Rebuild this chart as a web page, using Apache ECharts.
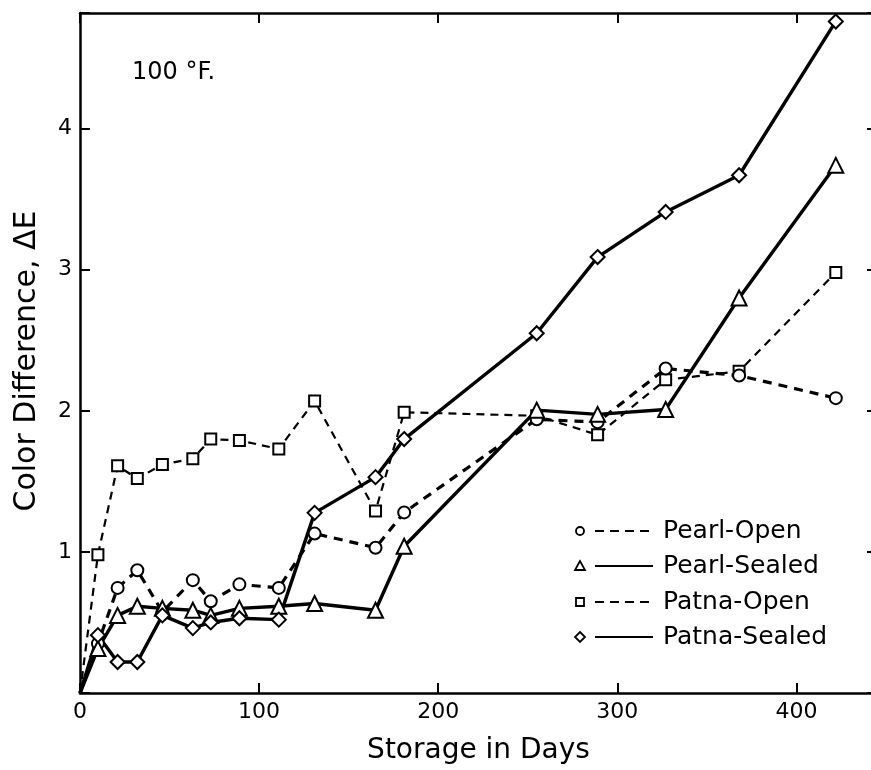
<!DOCTYPE html>
<html><head><meta charset="utf-8">
<script src="https://cdn.jsdelivr.net/npm/echarts@6/dist/echarts.min.js"></script>
<style>html,body{margin:0;padding:0;background:#fff}#c{width:871px;height:770px}</style>
</head><body><div id="c"></div>
<script>
// Storage days (x) and color difference ΔE (y)
const days        = [0, 10, 21, 32, 46, 63, 73, 89, 111, 131, 165, 181, 255, 289, 327, 368, 422];
const pearlOpen   = [0, 0.35, 0.745, 0.87, 0.575, 0.80, 0.65, 0.77, 0.745, 1.13, 1.03, 1.28, 1.94, 1.92, 2.30, 2.25, 2.09];
const pearlSealed = [0, 0.315, 0.55, 0.615, 0.60, 0.587, 0.55, 0.60, 0.615, 0.634, 0.587, 1.04, 2.005, 1.975, 2.01, 2.80, 3.74];
const patnaOpen   = [0, 0.98, 1.61, 1.52, 1.62, 1.66, 1.80, 1.79, 1.73, 2.07, 1.29, 1.99, 1.965, 1.83, 2.22, 2.28, 2.98];
const patnaSealed = [0, 0.41, 0.22, 0.22, 0.55, 0.46, 0.50, 0.53, 0.52, 1.277, 1.53, 1.80, 2.55, 3.09, 3.41, 3.67, 4.76];
const seriesNames = ['Pearl-Open', 'Pearl-Sealed', 'Patna-Open', 'Patna-Sealed'];
const xTickLabels = [0, 100, 200, 300, 400];
const yTickLabels = [1, 2, 3, 4];

const FONT = 'DejaVu Sans';
const chart = echarts.init(document.getElementById('c'), null, {renderer: 'canvas'});

// origin point drawn without a marker, as in the reference
const pair = arr => days.map((d, i) => d === 0 ? {value: [d, arr[i]], symbol: 'none'} : [d, arr[i]]);
const axisLine = {show: true, onZero: false, lineStyle: {color: '#000', width: 2.5}};
const tick = {show: true, inside: true, length: 10, lineStyle: {color: '#000', width: 2}};

function mkSeries(name, arr, symbol, size, lw, dash) {
  return {
    name, type: 'line', data: pair(arr), symbol, symbolSize: size,
    showAllSymbol: true, animation: false, silent: true,
    itemStyle: {color: '#fff', borderColor: '#000', borderWidth: 2},
    lineStyle: {color: '#000', width: lw, type: dash || 'solid'},
    emphasis: {disabled: true}, clip: false
  };
}

// legend drawn as decoration
const legendRows = [
  {name: seriesNames[0], sym: 'circle', dash: [9, 6], y: 531},
  {name: seriesNames[1], sym: 'triangle', dash: null, y: 566},
  {name: seriesNames[2], sym: 'rect', dash: [9, 6], y: 602},
  {name: seriesNames[3], sym: 'diamond', dash: null, y: 637}
];
const graphics = [];
legendRows.forEach(r => {
  const cx = 580, cy = r.y;
  let shape;
  if (r.sym === 'circle') shape = {type: 'circle', shape: {cx, cy, r: 4}};
  else if (r.sym === 'triangle') shape = {type: 'polygon', shape: {points: [[cx, cy - 5], [cx - 5, cy + 4], [cx + 5, cy + 4]]}};
  else if (r.sym === 'rect') shape = {type: 'rect', shape: {x: cx - 4, y: cy - 4, width: 8, height: 8}};
  else shape = {type: 'polygon', shape: {points: [[cx, cy - 5], [cx + 5, cy], [cx, cy + 5], [cx - 5, cy]]}};
  shape.style = {fill: '#fff', stroke: '#000', lineWidth: 1.8};
  graphics.push(shape);
  graphics.push({type: 'line', shape: {x1: 595, y1: cy, x2: 653, y2: cy},
    style: {stroke: '#000', lineWidth: 2, lineDash: r.dash || null}});
  graphics.push({type: 'text', x: 663, y: cy, style: {text: r.name, fill: '#000',
    font: '25px "' + FONT + '"', verticalAlign: 'middle', align: 'left'}});
});
graphics.push({type: 'text', x: 132, y: 73, style: {text: '100 °F.', fill: '#000',
  font: '24px "' + FONT + '"', verticalAlign: 'middle', align: 'left'}});
graphics.push({type: 'text', x: 27, y: 361, rotation: Math.PI / 2, style: {text: 'Color Difference, ΔE', fill: '#000',
  font: '30px "' + FONT + '"', verticalAlign: 'middle', align: 'center'}});

const option = {
  backgroundColor: '#fff',
  animation: false,
  grid: {left: 80, top: 13, width: 797, height: 680, outerBoundsMode: 'none', containLabel: false},
  xAxis: [
    {type: 'value', min: 0, max: 445, interval: 100, position: 'bottom',
     axisLine, axisTick: tick, splitLine: {show: false},
     axisLabel: {color: '#000', fontSize: 22, fontFamily: FONT, margin: 8,
       formatter: v => xTickLabels.includes(v) ? String(v) : ''},
     name: 'Storage in Days', nameLocation: 'middle', nameGap: 44,
     nameTextStyle: {color: '#000', fontSize: 28, fontFamily: FONT}},
    {type: 'value', min: 0, max: 445, interval: 100, position: 'top',
     axisLine, axisTick: tick, splitLine: {show: false}, axisLabel: {show: false}}
  ],
  yAxis: [
    {type: 'value', min: 0, max: 4.82, interval: 1, position: 'left',
     axisLine, axisTick: tick, splitLine: {show: false},
     axisLabel: {color: '#000', fontSize: 22, fontFamily: FONT, margin: 8,
       formatter: v => yTickLabels.includes(v) ? String(v) : ''}},
    {type: 'value', min: 0, max: 4.82, interval: 1, position: 'right',
     axisLine, axisTick: tick, splitLine: {show: false}, axisLabel: {show: false}}
  ],
  series: [
    mkSeries(seriesNames[2], patnaOpen, 'rect', 11, 2.2, [8, 6]),
    mkSeries(seriesNames[0], pearlOpen, 'circle', 12, 3.2, [9, 7]),
    mkSeries(seriesNames[1], pearlSealed, 'triangle', 15, 3.4),
    mkSeries(seriesNames[3], patnaSealed, 'diamond', 14, 3.4)
  ],
  graphic: graphics
};
chart.setOption(option);
</script>
</body></html>
